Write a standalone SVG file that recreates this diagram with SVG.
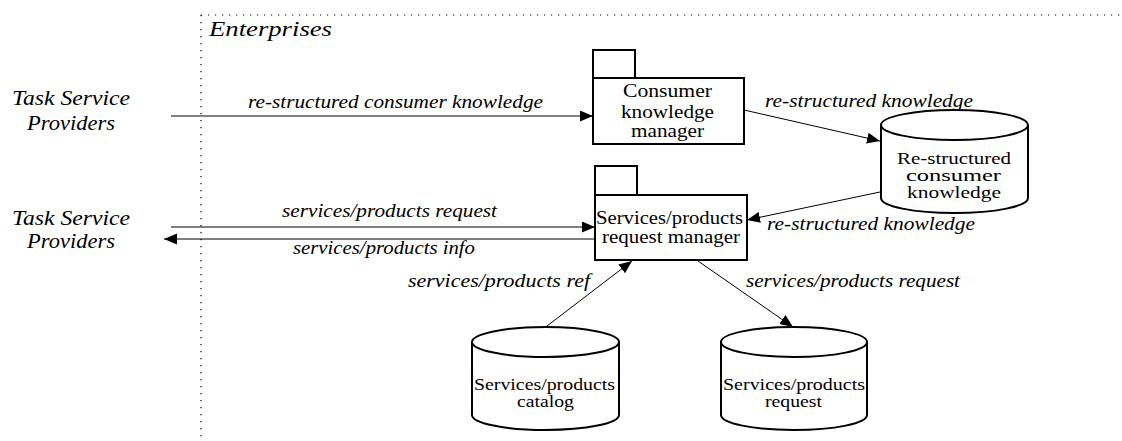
<svg xmlns="http://www.w3.org/2000/svg" width="1122" height="441" viewBox="0 0 1122 441">
<style>
.bg{fill:#fff}
.nd{fill:#fff;stroke:#000;stroke-width:2}
.cn{stroke:#000;stroke-width:1;fill:none}
.dot{stroke:#000;stroke-width:1.2;stroke-dasharray:1.2 5.8;fill:none}
.t{font-family:"Liberation Serif","Times New Roman",serif;font-size:18px;fill:#000}
.c{font-family:"Liberation Serif","Times New Roman",serif;font-size:16px;fill:#000}
.l{font-family:"Liberation Serif","Times New Roman",serif;font-size:19px;font-style:italic;fill:#000}
.h{font-family:"Liberation Serif","Times New Roman",serif;font-size:20px;font-style:italic;fill:#000}
</style>
<defs>
<marker id="ah" markerUnits="userSpaceOnUse" markerWidth="14" markerHeight="12" refX="13" refY="5.5" orient="auto">
<path d="M0,0 L13,5.5 L0,11 z" fill="#000"/>
</marker>
</defs>
<rect class="bg" x="0" y="0" width="1122" height="441"/>
<g id="boundary">
<path class="dot" d="M201,15 H1122"/>
<path class="dot" d="M201,15 V441"/>
<text class="h" x="209" y="36" textLength="123" lengthAdjust="spacingAndGlyphs">Enterprises</text>
</g>
<g id="tsp1">
<text class="h" x="12" y="105" textLength="118" lengthAdjust="spacingAndGlyphs">Task Service</text>
<text class="h" x="27" y="130" textLength="88" lengthAdjust="spacingAndGlyphs">Providers</text>
</g>
<g id="tsp2">
<text class="h" x="12" y="225" textLength="118" lengthAdjust="spacingAndGlyphs">Task Service</text>
<text class="h" x="27" y="248" textLength="88" lengthAdjust="spacingAndGlyphs">Providers</text>
</g>
<g id="ckm">
<rect class="nd" x="593" y="50" width="42" height="28"/>
<rect class="nd" x="593" y="78" width="151" height="66"/>
<text class="t" x="623" y="97" textLength="89" lengthAdjust="spacingAndGlyphs">Consumer</text>
<text class="t" x="621" y="118" textLength="93" lengthAdjust="spacingAndGlyphs">knowledge</text>
<text class="t" x="631" y="137" textLength="73" lengthAdjust="spacingAndGlyphs">manager</text>
</g>
<g id="rck">
<path class="nd" d="M881,125 V198 A73.5,15 0 0 0 1028,198 V125 A73.5,15 0 0 0 881,125 Z"/>
<path class="nd" d="M881,125 A73.5,15 0 0 0 1028,125"/>
<text class="c" x="897" y="164" textLength="114" lengthAdjust="spacingAndGlyphs">Re-structured</text>
<text class="c" x="906" y="181" textLength="95" lengthAdjust="spacingAndGlyphs">consumer</text>
<text class="c" x="907" y="198" textLength="94" lengthAdjust="spacingAndGlyphs">knowledge</text>
</g>
<g id="sprm">
<rect class="nd" x="595" y="166" width="42" height="29"/>
<rect class="nd" x="595" y="195" width="152" height="65"/>
<text class="t" x="596" y="224" textLength="147" lengthAdjust="spacingAndGlyphs">Services/products</text>
<text class="t" x="602" y="243" textLength="138" lengthAdjust="spacingAndGlyphs">request manager</text>
</g>
<g id="catalog">
<path class="nd" d="M472,342 V415 A73.5,15 0 0 0 619,415 V342 A73.5,15 0 0 0 472,342 Z"/>
<path class="nd" d="M472,342 A73.5,15 0 0 0 619,342"/>
<text class="c" x="474" y="390" textLength="141" lengthAdjust="spacingAndGlyphs">Services/products</text>
<text class="c" x="517" y="407" textLength="57" lengthAdjust="spacingAndGlyphs">catalog</text>
</g>
<g id="request">
<path class="nd" d="M721,342 V415 A73,15 0 0 0 867,415 V342 A73,15 0 0 0 721,342 Z"/>
<path class="nd" d="M721,342 A73,15 0 0 0 867,342"/>
<text class="c" x="723" y="390" textLength="142" lengthAdjust="spacingAndGlyphs">Services/products</text>
<text class="c" x="765" y="407" textLength="57" lengthAdjust="spacingAndGlyphs">request</text>
</g>
<g id="connectors">
<line class="cn" x1="171" y1="116" x2="593" y2="116" marker-end="url(#ah)"/>
<text class="l" x="248" y="108" textLength="295" lengthAdjust="spacingAndGlyphs">re-structured consumer knowledge</text>
<line class="cn" x1="744" y1="110" x2="880" y2="141" marker-end="url(#ah)"/>
<text class="l" x="765" y="107" textLength="208" lengthAdjust="spacingAndGlyphs">re-structured knowledge</text>
<line class="cn" x1="880" y1="192" x2="747" y2="220" marker-end="url(#ah)"/>
<text class="l" x="767" y="230" textLength="208" lengthAdjust="spacingAndGlyphs">re-structured knowledge</text>
<line class="cn" x1="171" y1="227" x2="595" y2="227" marker-end="url(#ah)"/>
<text class="l" x="282" y="217" textLength="215" lengthAdjust="spacingAndGlyphs">services/products request</text>
<line class="cn" x1="595" y1="239" x2="164" y2="239" marker-end="url(#ah)"/>
<text class="l" x="293" y="254" textLength="182" lengthAdjust="spacingAndGlyphs">services/products info</text>
<line class="cn" x1="547" y1="326" x2="632" y2="261" marker-end="url(#ah)"/>
<text class="l" x="408" y="287" textLength="182" lengthAdjust="spacingAndGlyphs">services/products ref</text>
<line class="cn" x1="698" y1="261" x2="793" y2="327" marker-end="url(#ah)"/>
<text class="l" x="746" y="287" textLength="214" lengthAdjust="spacingAndGlyphs">services/products request</text>
</g>
</svg>
